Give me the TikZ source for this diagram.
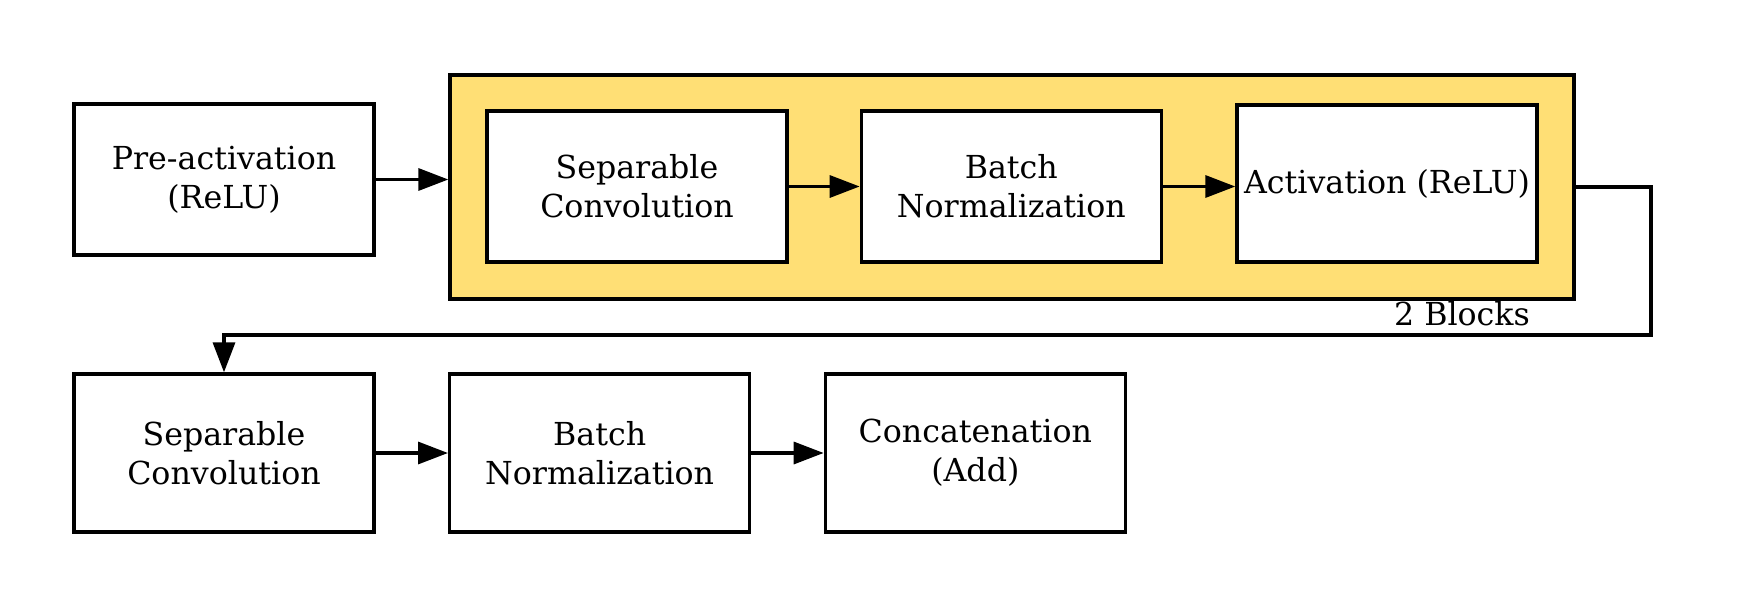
\documentclass[tikz,border=0pt]{standalone}
\usepackage{fontspec}
\setmainfont{DejaVu Serif}
\usetikzlibrary{arrows.meta,positioning}
\definecolor{blockyellow}{RGB}{255,223,117}

\begin{document}
\begin{tikzpicture}[x=0.3pt,y=-0.3pt,>={Triangle[length=9pt,width=6.6pt]},line width=1pt,node distance=21.7pt]
  \tikzset{layer/.style={draw,fill=white,minimum width=90pt,minimum height=45.3pt,align=center,inner sep=0pt,font=\fontsize{9.5}{11.7}\selectfont}}
  \useasboundingbox (0,0) rectangle (1763,608);

  \node[layer] (pre) at (224,179.5) {Pre-activation\\(ReLU)};
  \node[draw,fill=blockyellow,minimum width=337.2pt,minimum height=67.2pt,inner sep=0pt] (blk) at (1012,187) {};
  \node[layer] (sep1) at (637,186.5) {Separable\\Convolution};
  \node[layer] (bn1) [right=21.3pt of sep1] {Batch\\Normalization};
  \node[layer,minimum height=47.1pt] (act) [right=of bn1,yshift=0.9pt] {Activation (ReLU)};
  \node[font=\fontsize{9.5}{11.7}\selectfont] (rep) at (1462,314) {2 Blocks};

  \node[layer,minimum height=47.4pt] (sep2) at (224,453) {Separable\\Convolution};
  \node[layer,minimum height=47.4pt] (bn2) [right=of sep2] {Batch\\Normalization};
  \node[layer,minimum height=47.4pt] (cat) [right=of bn2] {Concatenation\\(Add)};

  \coordinate (c1) at (1651,187);
  \coordinate (c2) at (1651,335);
  \coordinate (c3) at (224,335);

  \draw[->] (pre) -- (pre -| blk.west);
  \draw[->] (sep1) -- (bn1);
  \draw[->] (bn1) -- (bn1 -| act.west);
  \draw[->] (blk.east |- c1) -- (c1) -- (c2) -- (c3) -- (sep2);
  \draw[->] (sep2) -- (bn2);
  \draw[->] (bn2) -- (cat);
\end{tikzpicture}
\end{document}
